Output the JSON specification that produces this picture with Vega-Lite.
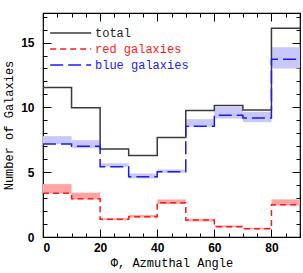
{
  "$schema": "https://vega.github.io/schema/vega-lite/v6.json",
  "autosize": "none",
  "padding": {"left": 43, "top": 13, "right": 3, "bottom": 36},
  "width": 257,
  "height": 224,
  "background": "white",
  "config": {
    "view": {"stroke": "black", "strokeWidth": 1.2},
    "axis": {"domain": false, "grid": false, "labelFont": "Liberation Sans", "labelFontSize": 12, "labelFontWeight": "bold", "labelColor": "black", "titleFont": "Liberation Mono", "titleFontSize": 12, "titleFontWeight": "normal", "titleColor": "black", "tickColor": "black", "tickWidth": 1}
  },
  "datasets": {
    "lines": [
      {"series": "total", "phi": 0, "n": 11.53}, {"series": "total", "phi": 10, "n": 9.97}, {"series": "total", "phi": 20, "n": 6.78}, {"series": "total", "phi": 30, "n": 6.29}, {"series": "total", "phi": 40, "n": 7.68}, {"series": "total", "phi": 50, "n": 9.76}, {"series": "total", "phi": 60, "n": 10.15}, {"series": "total", "phi": 70, "n": 9.79}, {"series": "total", "phi": 80, "n": 16.1}, {"series": "total", "phi": 90, "n": 16.1},
      {"series": "red galaxies", "phi": 0, "n": 3.37}, {"series": "red galaxies", "phi": 10, "n": 2.95}, {"series": "red galaxies", "phi": 20, "n": 1.36}, {"series": "red galaxies", "phi": 30, "n": 1.57}, {"series": "red galaxies", "phi": 40, "n": 2.65}, {"series": "red galaxies", "phi": 50, "n": 1.31}, {"series": "red galaxies", "phi": 60, "n": 0.8}, {"series": "red galaxies", "phi": 70, "n": 0.64}, {"series": "red galaxies", "phi": 80, "n": 2.49}, {"series": "red galaxies", "phi": 90, "n": 2.49},
      {"series": "blue galaxies", "phi": 0, "n": 7.17}, {"series": "blue galaxies", "phi": 10, "n": 7.01}, {"series": "blue galaxies", "phi": 20, "n": 5.42}, {"series": "blue galaxies", "phi": 30, "n": 4.65}, {"series": "blue galaxies", "phi": 40, "n": 5.03}, {"series": "blue galaxies", "phi": 50, "n": 8.55}, {"series": "blue galaxies", "phi": 60, "n": 9.4}, {"series": "blue galaxies", "phi": 70, "n": 9.18}, {"series": "blue galaxies", "phi": 80, "n": 13.72}, {"series": "blue galaxies", "phi": 90, "n": 13.72}
    ],
    "bands": [
      {"band": "blue", "lo_phi": 0, "hi_phi": 10, "lo": 7.17, "hi": 7.78},
      {"band": "blue", "lo_phi": 10, "hi_phi": 20, "lo": 6.85, "hi": 7.47},
      {"band": "blue", "lo_phi": 20, "hi_phi": 30, "lo": 5.42, "hi": 5.68},
      {"band": "blue", "lo_phi": 30, "hi_phi": 40, "lo": 4.52, "hi": 4.9},
      {"band": "blue", "lo_phi": 40, "hi_phi": 50, "lo": 4.95, "hi": 5.2},
      {"band": "blue", "lo_phi": 50, "hi_phi": 60, "lo": 8.5, "hi": 9.09},
      {"band": "blue", "lo_phi": 60, "hi_phi": 70, "lo": 9.14, "hi": 10.02},
      {"band": "blue", "lo_phi": 70, "hi_phi": 80, "lo": 8.86, "hi": 9.66},
      {"band": "blue", "lo_phi": 80, "hi_phi": 90, "lo": 13.0, "hi": 14.64},
      {"band": "red", "lo_phi": 0, "hi_phi": 10, "lo": 3.36, "hi": 4.08},
      {"band": "red", "lo_phi": 10, "hi_phi": 20, "lo": 2.9, "hi": 3.42},
      {"band": "red", "lo_phi": 20, "hi_phi": 30, "lo": 1.3, "hi": 1.45},
      {"band": "red", "lo_phi": 30, "hi_phi": 40, "lo": 1.5, "hi": 1.7},
      {"band": "red", "lo_phi": 40, "hi_phi": 50, "lo": 2.55, "hi": 2.9},
      {"band": "red", "lo_phi": 50, "hi_phi": 60, "lo": 1.2, "hi": 1.4},
      {"band": "red", "lo_phi": 60, "hi_phi": 70, "lo": 0.75, "hi": 0.9},
      {"band": "red", "lo_phi": 70, "hi_phi": 80, "lo": 0.6, "hi": 0.72},
      {"band": "red", "lo_phi": 80, "hi_phi": 90, "lo": 2.44, "hi": 2.9}
    ]
  },
  "layer": [
    {
      "data": {"name": "bands"},
      "mark": {"type": "rect", "opacity": 1},
      "encoding": {
        "x": {"field": "lo_phi", "type": "quantitative", "scale": {"domain": [0, 90], "nice": false, "zero": false},
          "axis": {"orient": "bottom", "values": [0,5,10,15,20,25,30,35,40,45,50,55,60,65,70,75,80,85,90], "labelExpr": "datum.value % 20 === 0 ? datum.label : ''", "tickSize": {"condition": {"test": "datum.value % 20 === 0", "value": -8}, "value": -4}, "labelPadding": 13, "title": "Φ, Azmuthal Angle", "titlePadding": 4}},
        "x2": {"field": "hi_phi"},
        "y": {"field": "lo", "type": "quantitative", "scale": {"domain": [0, 17.28], "nice": false},
          "axis": {"orient": "left", "values": [0,1,2,3,4,5,6,7,8,9,10,11,12,13,14,15,16,17], "labelExpr": "datum.value % 5 === 0 ? datum.label : ''", "tickSize": {"condition": {"test": "datum.value % 5 === 0", "value": -8}, "value": -4}, "labelPadding": 17, "title": "Number of Galaxies", "titlePadding": 5}},
        "y2": {"field": "hi"},
        "fill": {"field": "band", "type": "nominal", "scale": {"domain": ["red", "blue"], "range": ["#ffa3a3", "#c8c8fa"]}, "legend": null}
      }
    },
    {
      "data": {"name": "lines"},
      "mark": {"type": "line", "interpolate": "step-after", "strokeWidth": 1.5},
      "encoding": {
        "x": {"field": "phi", "type": "quantitative",
          "axis": {"orient": "top", "values": [0,5,10,15,20,25,30,35,40,45,50,55,60,65,70,75,80,85,90], "labels": false, "tickSize": {"condition": {"test": "datum.value % 20 === 0", "value": -8}, "value": -4}, "title": null}},
        "y": {"field": "n", "type": "quantitative",
          "axis": {"orient": "right", "values": [0,1,2,3,4,5,6,7,8,9,10,11,12,13,14,15,16,17], "labels": false, "tickSize": {"condition": {"test": "datum.value % 5 === 0", "value": -8}, "value": -4}, "title": null}},
        "color": {"field": "series", "type": "nominal", "sort": ["total", "red galaxies", "blue galaxies"],
          "scale": {"domain": ["total", "red galaxies", "blue galaxies"], "range": ["#3a3a3a", "#ff1a1a", "#1a1aff"]},
          "legend": {"title": null, "orient": "none", "legendX": 6, "legendY": 12, "padding": 0, "symbolType": "M-1,0H5", "symbolSize": 187, "symbolStrokeWidth": 1.5, "symbolFillColor": "transparent", "labelFont": "Liberation Mono", "labelFontSize": 12, "labelOffset": 30, "rowPadding": 2, "labelLimit": 200,
            "encode": {"labels": {"update": {"fill": {"signal": "datum.value === 'total' ? '#222222' : datum.value === 'red galaxies' ? '#ff1a1a' : '#1a1aff'"}}}}}},
        "strokeDash": {"field": "series", "type": "nominal", "sort": ["total", "red galaxies", "blue galaxies"],
          "scale": {"domain": ["total", "red galaxies", "blue galaxies"], "range": [[1, 0], [6, 4], [13, 5]]},
          "legend": {"title": null, "orient": "none", "legendX": 6, "legendY": 12, "padding": 0, "symbolType": "M-1,0H5", "symbolSize": 187, "symbolStrokeWidth": 1.5, "symbolFillColor": "transparent", "labelFont": "Liberation Mono", "labelFontSize": 12, "labelOffset": 30, "rowPadding": 2, "labelLimit": 200}}
      }
    }
  ],
  "resolve": {"axis": {"x": "independent", "y": "independent"}}
}
